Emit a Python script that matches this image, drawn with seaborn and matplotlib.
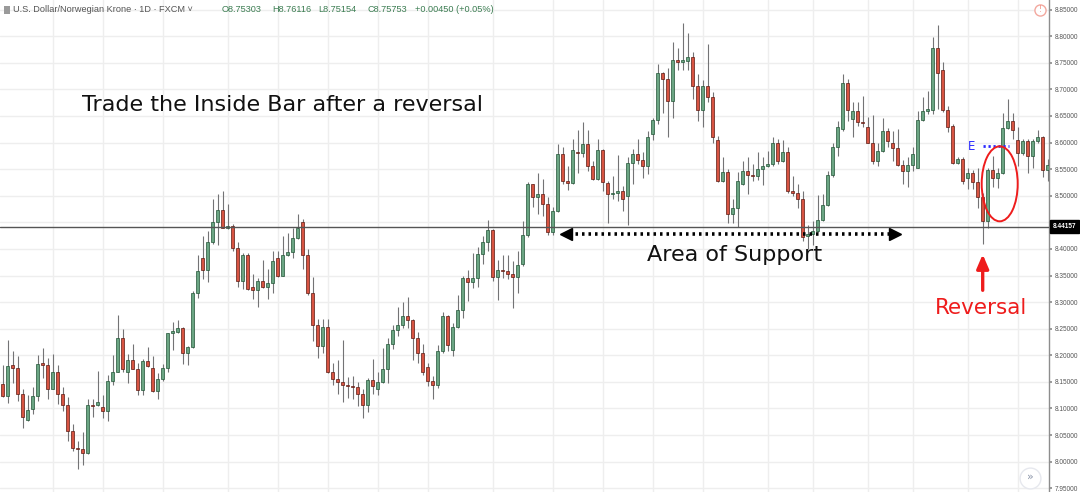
import matplotlib
matplotlib.use("Agg")
import matplotlib.pyplot as plt
from matplotlib.patches import Ellipse, Rectangle
import numpy as np
import pandas as pd
import seaborn as sns

# USD/NOK daily candles (left to right)
opens = [
    8.146, 8.123, 8.181, 8.176, 8.127, 8.079, 8.099, 8.124, 8.185, 8.181,
    8.137, 8.168, 8.127, 8.107, 8.057, 8.026, 8.023, 8.016, 8.106, 8.106,
    8.102, 8.096, 8.151, 8.168, 8.233, 8.169, 8.192, 8.175, 8.134, 8.189,
    8.176, 8.133, 8.155, 8.177, 8.241, 8.243, 8.252, 8.204, 8.215, 8.317,
    8.382, 8.361, 8.413, 8.451, 8.474, 8.440, 8.444, 8.402, 8.339, 8.388,
    8.328, 8.323, 8.340, 8.328, 8.336, 8.383, 8.350, 8.388, 8.394, 8.420,
    8.451, 8.388, 8.317, 8.257, 8.218, 8.254, 8.168, 8.156, 8.150, 8.145,
    8.142, 8.140, 8.127, 8.107, 8.153, 8.137, 8.150, 8.174, 8.221, 8.248,
    8.257, 8.274, 8.266, 8.232, 8.205, 8.178, 8.151, 8.144, 8.209, 8.274,
    8.210, 8.253, 8.285, 8.345, 8.338, 8.345, 8.391, 8.413, 8.435, 8.348,
    8.360, 8.359, 8.352, 8.347, 8.372, 8.426, 8.522, 8.497, 8.504, 8.484,
    8.431, 8.471, 8.578, 8.527, 8.524, 8.583, 8.580, 8.597, 8.556, 8.531,
    8.586, 8.524, 8.503, 8.505, 8.509, 8.500, 8.561, 8.578, 8.567, 8.555,
    8.616, 8.643, 8.731, 8.720, 8.679, 8.756, 8.751, 8.754, 8.760, 8.707,
    8.661, 8.707, 8.685, 8.605, 8.527, 8.544, 8.465, 8.477, 8.522, 8.546,
    8.539, 8.537, 8.550, 8.556, 8.560, 8.600, 8.566, 8.582, 8.509, 8.506,
    8.494, 8.424, 8.428, 8.434, 8.454, 8.483, 8.539, 8.592, 8.626, 8.712,
    8.644, 8.660, 8.639, 8.630, 8.600, 8.566, 8.585, 8.622, 8.599, 8.589,
    8.558, 8.547, 8.558, 8.553, 8.643, 8.660, 8.661, 8.778, 8.736, 8.661,
    8.631, 8.561, 8.569, 8.534, 8.542, 8.525, 8.497, 8.453, 8.548, 8.533,
    8.543, 8.627, 8.640, 8.605, 8.581, 8.603, 8.575, 8.603, 8.610, 8.548,
]
highs = [
    8.181, 8.229, 8.209, 8.199, 8.137, 8.125, 8.141, 8.200, 8.214, 8.194,
    8.202, 8.181, 8.141, 8.122, 8.071, 8.038, 8.055, 8.118, 8.118, 8.170,
    8.125, 8.163, 8.200, 8.275, 8.249, 8.202, 8.221, 8.185, 8.193, 8.216,
    8.198, 8.166, 8.183, 8.241, 8.263, 8.267, 8.254, 8.218, 8.320, 8.388,
    8.424, 8.434, 8.493, 8.503, 8.509, 8.484, 8.446, 8.413, 8.393, 8.393,
    8.352, 8.345, 8.380, 8.363, 8.397, 8.396, 8.424, 8.430, 8.440, 8.465,
    8.457, 8.399, 8.348, 8.268, 8.268, 8.268, 8.185, 8.191, 8.229, 8.160,
    8.161, 8.150, 8.137, 8.158, 8.193, 8.169, 8.213, 8.232, 8.257, 8.290,
    8.300, 8.309, 8.268, 8.243, 8.221, 8.185, 8.161, 8.219, 8.281, 8.276,
    8.260, 8.314, 8.350, 8.361, 8.393, 8.403, 8.424, 8.454, 8.437, 8.380,
    8.388, 8.388, 8.378, 8.396, 8.453, 8.525, 8.523, 8.542, 8.531, 8.497,
    8.478, 8.597, 8.591, 8.556, 8.607, 8.624, 8.638, 8.624, 8.566, 8.607,
    8.588, 8.528, 8.537, 8.577, 8.519, 8.573, 8.588, 8.607, 8.582, 8.622,
    8.646, 8.748, 8.733, 8.740, 8.789, 8.777, 8.824, 8.806, 8.770, 8.728,
    8.717, 8.786, 8.695, 8.613, 8.573, 8.550, 8.494, 8.544, 8.566, 8.573,
    8.560, 8.583, 8.573, 8.585, 8.610, 8.607, 8.604, 8.591, 8.537, 8.522,
    8.509, 8.445, 8.453, 8.502, 8.503, 8.546, 8.599, 8.641, 8.729, 8.720,
    8.676, 8.676, 8.688, 8.648, 8.651, 8.599, 8.646, 8.627, 8.622, 8.626,
    8.567, 8.572, 8.592, 8.659, 8.685, 8.697, 8.799, 8.821, 8.751, 8.668,
    8.634, 8.572, 8.573, 8.553, 8.548, 8.553, 8.506, 8.553, 8.575, 8.553,
    8.655, 8.682, 8.656, 8.630, 8.607, 8.606, 8.606, 8.624, 8.613, 8.570,
]
lows = [
    8.121, 8.110, 8.148, 8.115, 8.064, 8.076, 8.090, 8.115, 8.158, 8.118,
    8.136, 8.109, 8.096, 8.038, 8.021, 7.987, 7.994, 8.015, 8.084, 8.104,
    8.082, 8.076, 8.144, 8.168, 8.169, 8.147, 8.174, 8.125, 8.125, 8.178,
    8.131, 8.117, 8.151, 8.168, 8.210, 8.241, 8.183, 8.181, 8.213, 8.307,
    8.344, 8.338, 8.410, 8.408, 8.439, 8.437, 8.396, 8.328, 8.325, 8.323,
    8.306, 8.290, 8.326, 8.306, 8.317, 8.348, 8.349, 8.386, 8.383, 8.418,
    8.363, 8.314, 8.226, 8.194, 8.204, 8.166, 8.145, 8.128, 8.112, 8.119,
    8.117, 8.105, 8.082, 8.093, 8.128, 8.125, 8.147, 8.147, 8.212, 8.237,
    8.251, 8.251, 8.191, 8.185, 8.163, 8.142, 8.117, 8.139, 8.204, 8.208,
    8.199, 8.251, 8.271, 8.303, 8.326, 8.328, 8.372, 8.396, 8.339, 8.304,
    8.345, 8.344, 8.289, 8.317, 8.368, 8.422, 8.478, 8.465, 8.462, 8.427,
    8.427, 8.470, 8.522, 8.510, 8.522, 8.542, 8.572, 8.547, 8.529, 8.529,
    8.509, 8.449, 8.494, 8.490, 8.471, 8.445, 8.522, 8.560, 8.533, 8.541,
    8.604, 8.635, 8.655, 8.611, 8.646, 8.736, 8.736, 8.737, 8.682, 8.641,
    8.630, 8.676, 8.600, 8.525, 8.525, 8.448, 8.448, 8.441, 8.521, 8.504,
    8.528, 8.529, 8.521, 8.554, 8.556, 8.560, 8.563, 8.506, 8.500, 8.477,
    8.415, 8.399, 8.407, 8.432, 8.453, 8.481, 8.536, 8.575, 8.622, 8.641,
    8.610, 8.632, 8.630, 8.600, 8.560, 8.556, 8.583, 8.591, 8.566, 8.556,
    8.522, 8.516, 8.547, 8.552, 8.640, 8.653, 8.653, 8.663, 8.657, 8.619,
    8.560, 8.560, 8.522, 8.512, 8.512, 8.477, 8.410, 8.440, 8.516, 8.515,
    8.540, 8.625, 8.606, 8.555, 8.576, 8.543, 8.553, 8.600, 8.535, 8.527,
]
closes = [
    8.123, 8.180, 8.177, 8.127, 8.084, 8.098, 8.124, 8.183, 8.181, 8.136,
    8.168, 8.127, 8.107, 8.057, 8.025, 8.023, 8.016, 8.106, 8.105, 8.112,
    8.096, 8.151, 8.168, 8.233, 8.175, 8.192, 8.175, 8.134, 8.189, 8.180,
    8.133, 8.155, 8.177, 8.241, 8.246, 8.252, 8.204, 8.215, 8.317, 8.359,
    8.361, 8.413, 8.451, 8.474, 8.440, 8.444, 8.402, 8.339, 8.388, 8.325,
    8.323, 8.340, 8.328, 8.336, 8.378, 8.350, 8.388, 8.394, 8.420, 8.439,
    8.388, 8.317, 8.257, 8.218, 8.254, 8.168, 8.156, 8.150, 8.145, 8.142,
    8.140, 8.127, 8.107, 8.153, 8.142, 8.150, 8.174, 8.221, 8.248, 8.257,
    8.274, 8.266, 8.232, 8.205, 8.168, 8.151, 8.144, 8.209, 8.274, 8.219,
    8.253, 8.285, 8.345, 8.338, 8.345, 8.391, 8.413, 8.435, 8.348, 8.361,
    8.359, 8.352, 8.347, 8.370, 8.426, 8.522, 8.497, 8.504, 8.484, 8.431,
    8.471, 8.578, 8.527, 8.524, 8.586, 8.580, 8.597, 8.556, 8.531, 8.586,
    8.525, 8.503, 8.505, 8.509, 8.494, 8.561, 8.578, 8.567, 8.555, 8.610,
    8.643, 8.731, 8.720, 8.679, 8.756, 8.751, 8.755, 8.760, 8.707, 8.661,
    8.707, 8.685, 8.610, 8.527, 8.544, 8.465, 8.477, 8.528, 8.546, 8.539,
    8.537, 8.550, 8.556, 8.560, 8.600, 8.566, 8.582, 8.508, 8.506, 8.494,
    8.422, 8.428, 8.434, 8.454, 8.483, 8.539, 8.592, 8.630, 8.712, 8.661,
    8.660, 8.638, 8.636, 8.600, 8.566, 8.585, 8.622, 8.602, 8.589, 8.558,
    8.547, 8.558, 8.578, 8.643, 8.660, 8.663, 8.778, 8.731, 8.661, 8.630,
    8.561, 8.569, 8.527, 8.542, 8.525, 8.497, 8.453, 8.548, 8.533, 8.542,
    8.627, 8.640, 8.624, 8.581, 8.603, 8.575, 8.603, 8.611, 8.548, 8.557,
]

# bar indices where the chart's vertical (date) grid lines fall
date_breaks = [10, 20, 32, 45, 55, 65, 75, 85, 98, 110, 120, 130, 140,
               153, 162, 173, 182, 193, 203]
price_ticks = [7.95, 8.00, 8.05, 8.10, 8.15, 8.20, 8.25, 8.30, 8.35, 8.40,
               8.45, 8.50, 8.55, 8.60, 8.65, 8.70, 8.75, 8.80, 8.85]
last_price = 8.44157

title = "U.S. Dollar/Norwegian Krone \u00b7 1D \u00b7 FXCM \u02c5"
ohlc_labels = ["O8.75303", "H8.76116", "L8.75154", "C8.75753", "+0.00450 (+0.05%)"]

df = pd.DataFrame({"open": opens, "high": highs, "low": lows, "close": closes})
df["idx"] = np.arange(len(df))
df["up"] = df["close"] >= df["open"]

sns.set_theme(style="white")
plt.rcParams["font.family"] = ["DejaVu Sans"]

UP, DOWN = "#6ba583", "#d75442"
UP_EDGE, DOWN_EDGE = "#225437", "#5b1a13"

fig = plt.figure(figsize=(10.8, 4.92), dpi=100)
ax = fig.add_axes([0, 0, 1049 / 1080, 1])

# wicks + bodies
ax.vlines(df["idx"], df["low"], df["high"], color="#737375", lw=0.8, zorder=2)
body = (df["close"] - df["open"]).abs().clip(lower=0.0007)
ax.bar(df["idx"], body, bottom=df[["open", "close"]].min(axis=1), width=0.7,
       color=np.where(df["up"], UP, DOWN),
       edgecolor=np.where(df["up"], UP_EDGE, DOWN_EDGE),
       linewidth=0.5, zorder=3)

ax.set_xlim(-0.54, 209.26)
ax.set_ylim(7.943, 8.868)

ax.set_xticks(date_breaks)
ax.set_yticks(price_ticks)
ax.set_yticklabels([f"{p:.5f}" for p in price_ticks],
                   family="Liberation Sans")
ax.grid(True, color="#eeeeee", lw=1, zorder=0)
ax.tick_params(axis="x", length=0, labelbottom=False)
ax.yaxis.tick_right()
ax.tick_params(axis="y", labelsize=4.7, labelcolor="#555555", length=2.2,
               color="#8d8d8d", pad=1.6)
for side in ["top", "left", "bottom"]:
    ax.spines[side].set_visible(False)
ax.spines["right"].set_color("#8d8d8d")
ax.spines["right"].set_linewidth(1)

# current price line and its label
ax.axhline(last_price, color="#555555", lw=1, zorder=4)
ax.text(1.0035, last_price, f"{last_price:.5f}", transform=ax.get_yaxis_transform(),
        ha="left", va="center", fontsize=4.7, color="white", fontweight="bold",
        family="Liberation Sans",
        bbox=dict(boxstyle="square,pad=0.45", fc="black", ec="black"),
        clip_on=False, zorder=10)

# annotations
ax.text(15.8, 8.6596, "Trade the Inside Bar after a reversal", fontsize=16,
        color="#111111", va="baseline", ha="left", zorder=6)

y_sup = 8.428
ax.plot([113.2, 178.0], [y_sup, y_sup], color="black", lw=2.6,
        ls=(0, (0.7, 1.1)), zorder=6)
ax.plot([112.6], [y_sup], marker="<", ms=8, color="black", zorder=6)
ax.plot([178.5], [y_sup], marker=">", ms=8, color="black", zorder=6)
ax.text(128.9, 8.378, "Area of Support", fontsize=16, color="#111111",
        va="baseline", ha="left", zorder=6)

ax.plot([196.0, 201.3], [8.593, 8.593], color="#2a2aff", lw=2,
        ls=(0, (0.8, 1.0)), zorder=7)
ax.text(193.8, 8.593, "E", fontsize=8.5, color="#2a2aff", ha="center",
        va="center", zorder=7)

ax.add_patch(Ellipse((199.4, 8.5224), width=7.2, height=0.141, fill=False,
                     ec="#ee1c1c", lw=1.4, zorder=7))
ax.annotate("", xy=(196.0, 8.395), xytext=(196.0, 8.317),
            arrowprops=dict(arrowstyle="-|>,head_width=0.3,head_length=0.7",
                            color="#ee1c1c", lw=2.4), zorder=7)
ax.text(186.5, 8.278, "Reversal", fontsize=15.5, color="#ee1c1c",
        va="baseline", ha="left", zorder=7)

# small chart widgets
ax.plot([207.5], [8.8494], marker="o", ms=8, mfc="white", mec="#f3a89f",
        mew=1, zorder=8, clip_on=False)
ax.text(207.5, 8.8494, "!", fontsize=5.5, color="#f08a7e", ha="center",
        va="center", zorder=9)
ax.plot([205.5], [7.970], marker="o", ms=15, mfc="white", mec="#e6e8ee",
        mew=1, zorder=8)
ax.text(205.5, 7.971, "\u00bb", fontsize=8, color="#8a94a8", ha="center",
        va="center", zorder=9)

# header legend
fig.patches.append(Rectangle((4 / 1080, 1 - 14 / 492), 6 / 1080, 8 / 492,
                             transform=fig.transFigure, fc="#9a9a9a",
                             ec="none"))
fig.text(13 / 1080, 1 - 10 / 492, title, fontsize=6.6, color="#555555",
         va="center", ha="left", family="Liberation Sans")
for x_px, lab in zip([222, 272, 318, 367, 415], ohlc_labels):
    fig.text(x_px / 1080, 1 - 10 / 492, lab, fontsize=6.6, color="#3c7d52",
             va="center", ha="left", family="Liberation Sans")

fig.savefig("out.png", dpi=100)
plt.close(fig)
